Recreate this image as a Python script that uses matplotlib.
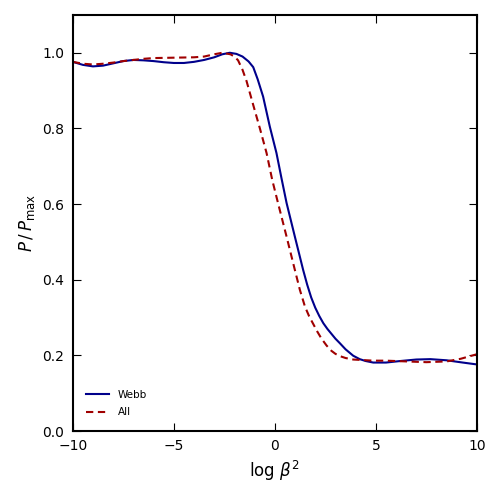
import matplotlib
matplotlib.use("Agg")
import matplotlib.pyplot as plt

webb_x = [-10, -9.5, -9, -8.5, -8, -7.5, -7, -6.5, -6, -5.5, -5, -4.5, -4, -3.5, -3, -2.6,
          -2.23, -1.9, -1.6, -1.3, -1.07, -0.85, -0.58, -0.25, 0.08, 0.33, 0.58, 0.99, 1.2,
          1.4, 1.6, 1.8, 2.0, 2.2, 2.4, 2.6, 2.8, 3.0, 3.22, 3.5, 3.88, 4.2, 4.5, 4.87, 5.5,
          6.2, 7.0, 7.7, 8.5, 9.3, 10]
webb_y = [0.976, 0.968, 0.964, 0.966, 0.972, 0.978, 0.981, 0.980, 0.978, 0.975, 0.973, 0.973,
          0.976, 0.981, 0.988, 0.996, 1.000, 0.997, 0.990, 0.977, 0.962, 0.930, 0.884, 0.805,
          0.735, 0.668, 0.603, 0.514, 0.469, 0.426, 0.387, 0.353, 0.326, 0.304, 0.285, 0.270,
          0.257, 0.244, 0.232, 0.216, 0.199, 0.190, 0.185, 0.181, 0.181, 0.185, 0.189, 0.190,
          0.187, 0.181, 0.176]

all_x = [-10, -9.5, -9, -8.5, -8, -7.5, -7, -6.5, -6, -5, -4, -3.5, -3, -2.6, -2.2, -2.0,
         -1.82, -1.6, -1.40, -1.07, -0.74, -0.41, -0.13, 0.16, 0.58, 0.99, 1.24, 1.49, 1.7,
         1.9, 2.1, 2.3, 2.56, 2.8, 3.0, 3.22, 3.5, 3.88, 4.87, 5.5, 6.5, 7.5, 8.5, 9.2, 10]
all_y = [0.976, 0.971, 0.969, 0.971, 0.974, 0.978, 0.981, 0.984, 0.986, 0.987, 0.988, 0.990,
         0.996, 1.000, 0.996, 0.990, 0.980, 0.955, 0.925, 0.862, 0.800, 0.735, 0.664, 0.602,
         0.514, 0.426, 0.373, 0.329, 0.303, 0.283, 0.263, 0.245, 0.226, 0.212, 0.204, 0.198,
         0.193, 0.189, 0.186, 0.186, 0.184, 0.182, 0.184, 0.191, 0.203]

x_ticks = [-10, -5, 0, 5, 10]
y_ticks = [0.0, 0.2, 0.4, 0.6, 0.8, 1.0]

plt.rcParams['mathtext.fontset'] = 'dejavusans'
plt.rcParams['font.family'] = ['DejaVu Sans']

fig = plt.figure(figsize=(5.02, 4.98), dpi=100)
ax = fig.add_axes([0.145, 0.1345, 0.805, 0.8355])

ax.plot(webb_x, webb_y, color='#00008b', lw=1.5, label='Webb')
ax.plot(all_x, all_y, color='#a00000', lw=1.5, ls=(0, (3.5, 2.2)), label='All')

ax.set_xlim(-10, 10)
ax.set_ylim(0, 1.1)
ax.set_xticks(x_ticks)
ax.set_yticks(y_ticks)
ax.set_yticklabels(['%.1f' % v for v in y_ticks])
ax.tick_params(direction='in', top=True, right=True, length=6, width=0.8,
               labelsize=10, pad=6)
for s in ax.spines.values():
    s.set_linewidth(1.5)

ax.set_xlabel(r'$\log\,\beta^2$', fontsize=12)
ax.set_ylabel(r'$P\,/\,P_{\rm max}$', fontsize=12)

ax.legend(loc='lower left', frameon=False, fontsize=7.5, handlelength=2.2,
          labelspacing=0.75, borderaxespad=0.9)

fig.savefig('out.png', dpi=100)
